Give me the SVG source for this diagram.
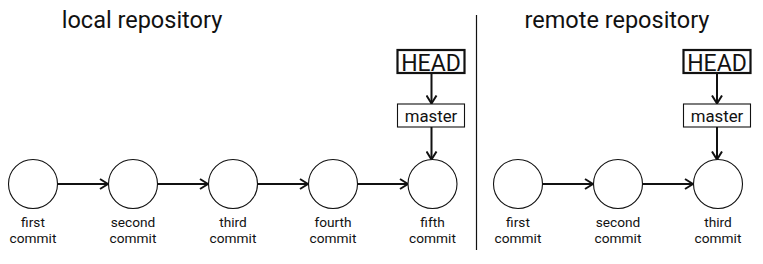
<svg xmlns="http://www.w3.org/2000/svg" width="763" height="264" viewBox="0 0 763 264">
<style>
text{font-family:Roboto,"Liberation Sans",sans-serif;fill:#111;text-anchor:middle}
.title{font-size:23.5px}
.lbl{font-size:13.7px}
.commit{fill:#fff;stroke:#111;stroke-width:1.1}
.head rect{fill:#fff;stroke:#111;stroke-width:2.2}
.head text{font-size:23px}
.br rect{fill:#fff;stroke:#111;stroke-width:1.1}
.br text{font-size:16.8px}
.edge{stroke:#111;stroke-width:2;fill:none;marker-end:url(#ah)}
</style>
<defs>
<marker id="ah" viewBox="0 0 10 12" refX="9" refY="6" markerWidth="5" markerHeight="6" markerUnits="strokeWidth" orient="auto">
<path d="M1,1 L9,6 L1,11" fill="none" stroke="#111" stroke-width="2"/>
</marker>
</defs>
<rect width="763" height="264" fill="#fff"/>
<text class="title" x="142" y="28">local repository</text>
<text class="title" x="617" y="28">remote repository</text>
<line x1="476.5" y1="15" x2="476.5" y2="250" stroke="#111" stroke-width="1.2"/>
<g id="connectors">
<path class="edge" d="M57.5,184 H108"/>
<path class="edge" d="M157.5,184 H208"/>
<path class="edge" d="M257.5,184 H308"/>
<path class="edge" d="M357.5,184 H408"/>
<path class="edge" d="M431.5,73 V103.5"/>
<path class="edge" d="M431.5,127 V159.5"/>
<path class="edge" d="M542.5,184 H593"/>
<path class="edge" d="M642.5,184 H693"/>
<path class="edge" d="M717,73 V103.5"/>
<path class="edge" d="M717,127 V159.5"/>
</g>
<g id="l1"><circle class="commit" cx="33" cy="184" r="24.5"/><text class="lbl" x="33" y="227">first</text><text class="lbl" x="33" y="243">commit</text></g>
<g id="l2"><circle class="commit" cx="133" cy="184" r="24.5"/><text class="lbl" x="133" y="227">second</text><text class="lbl" x="133" y="243">commit</text></g>
<g id="l3"><circle class="commit" cx="233" cy="184" r="24.5"/><text class="lbl" x="233" y="227">third</text><text class="lbl" x="233" y="243">commit</text></g>
<g id="l4"><circle class="commit" cx="333" cy="184" r="24.5"/><text class="lbl" x="333" y="227">fourth</text><text class="lbl" x="333" y="243">commit</text></g>
<g id="l5"><circle class="commit" cx="432.5" cy="184" r="24.5"/><text class="lbl" x="432.5" y="227">fifth</text><text class="lbl" x="432.5" y="243">commit</text></g>
<g id="lhead" class="head"><rect x="397.5" y="50" width="67" height="23"/><text x="431" y="70.5">HEAD</text></g>
<g id="lmaster" class="br"><rect x="397.5" y="104" width="67" height="23"/><text x="431" y="121.5">master</text></g>
<g id="r1"><circle class="commit" cx="518" cy="184" r="24.5"/><text class="lbl" x="518" y="227">first</text><text class="lbl" x="518" y="243">commit</text></g>
<g id="r2"><circle class="commit" cx="618" cy="184" r="24.5"/><text class="lbl" x="618" y="227">second</text><text class="lbl" x="618" y="243">commit</text></g>
<g id="r3"><circle class="commit" cx="718" cy="184" r="24.5"/><text class="lbl" x="718" y="227">third</text><text class="lbl" x="718" y="243">commit</text></g>
<g id="rhead" class="head"><rect x="683.5" y="50" width="67" height="23"/><text x="717" y="70.5">HEAD</text></g>
<g id="rmaster" class="br"><rect x="683.5" y="104" width="67" height="23"/><text x="717" y="121.5">master</text></g>
</svg>
